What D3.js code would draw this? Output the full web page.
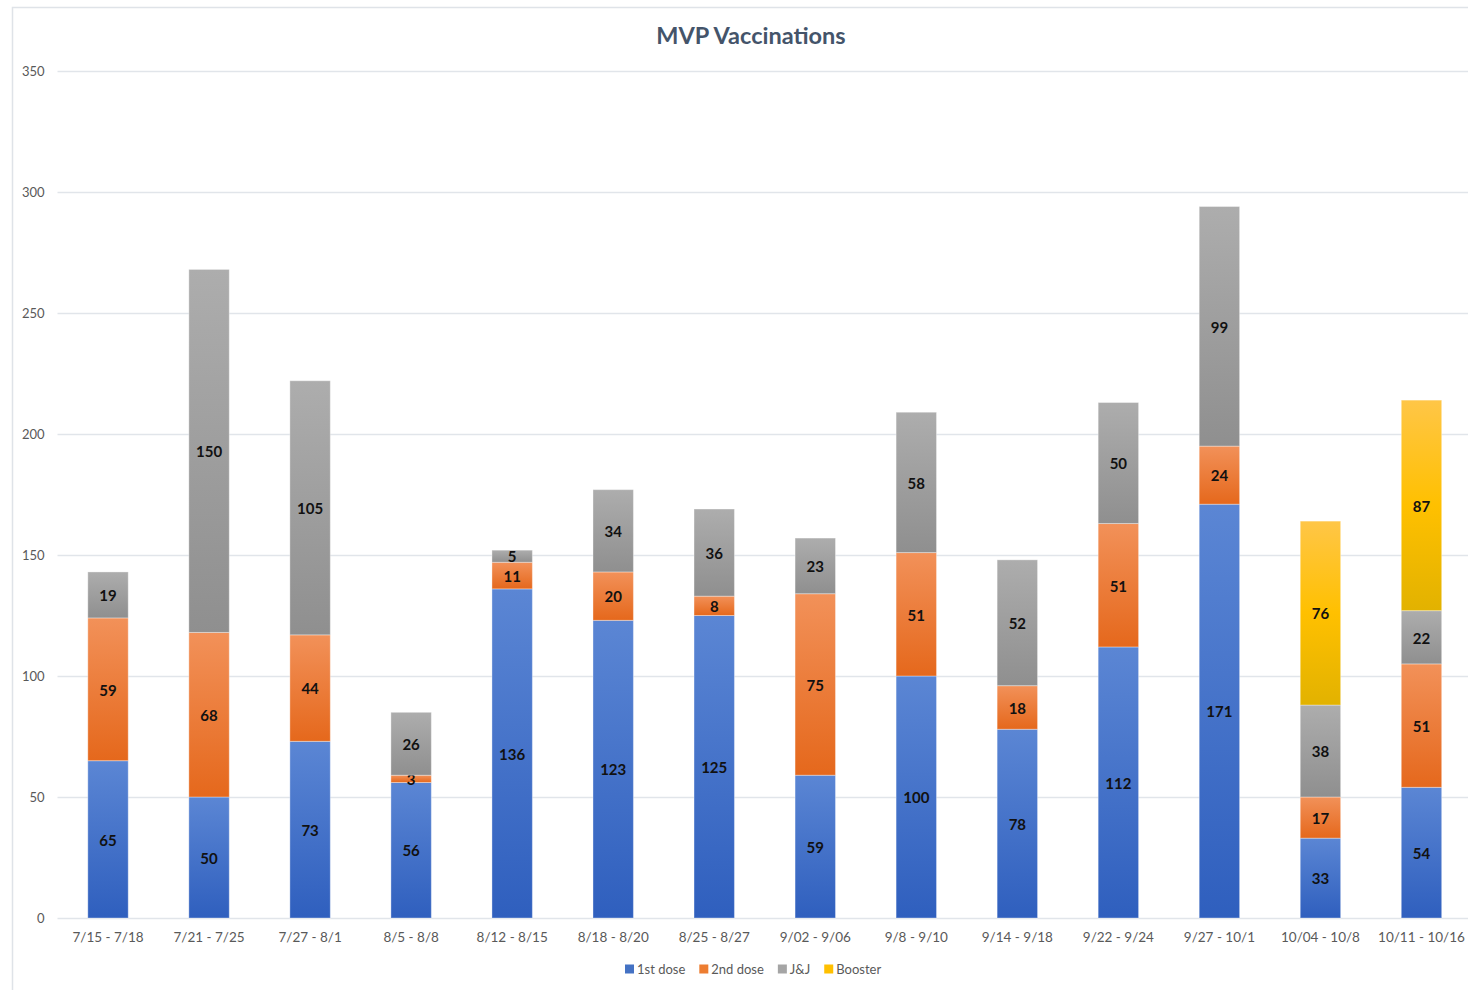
<!DOCTYPE html>
<html>
<head>
<meta charset="utf-8">
<script src="https://cdn.jsdelivr.net/npm/d3@7"></script>
<style>
  body { margin: 0; background: #fff; font-family: Lato, "Open Sans", sans-serif; }
  svg { display: block; }
</style>
</head>
<body>
<div id="chart"></div>
<script>
// data
const weeks = ["7/15 - 7/18", "7/21 - 7/25", "7/27 - 8/1", "8/5 - 8/8", "8/12 - 8/15", "8/18 - 8/20",
  "8/25 - 8/27", "9/02 - 9/06", "9/8 - 9/10", "9/14 - 9/18", "9/22 - 9/24", "9/27 - 10/1",
  "10/04 - 10/8", "10/11 - 10/16"];
const firstDose = [65, 50, 73, 56, 136, 123, 125, 59, 100, 78, 112, 171, 33, 54];
const secondDose = [59, 68, 44, 3, 11, 20, 8, 75, 51, 18, 51, 24, 17, 51];
const jnj = [19, 150, 105, 26, 5, 34, 36, 23, 58, 52, 50, 99, 38, 22];
const booster = [0, 0, 0, 0, 0, 0, 0, 0, 0, 0, 0, 0, 76, 87];
const seriesNames = ["1st dose", "2nd dose", "J&J", "Booster"];
const yTicks = [0, 50, 100, 150, 200, 250, 300, 350];

const rows = weeks.map((w, i) => ({
  week: w, "1st dose": firstDose[i], "2nd dose": secondDose[i], "J&J": jnj[i], "Booster": booster[i]
}));

const colors = {
  "1st dose": { top: "#5b86d4", bottom: "#2f5fbe", key: "#4472c4" },
  "2nd dose": { top: "#f29159", bottom: "#e5681c", key: "#ed7d31" },
  "J&J": { top: "#adadad", bottom: "#8f8f8f", key: "#a5a5a5" },
  "Booster": { top: "#ffc647", bottom: "#e2b200", key: "#ffc000" }
};

const width = 1468, height = 990;
const margin = { top: 71, right: -4, bottom: 72, left: 57.5 };

const svg = d3.select("#chart").append("svg")
  .attr("width", width)
  .attr("height", height);

// outer chart frame
svg.append("rect")
  .attr("x", 12.5).attr("y", 7.5)
  .attr("width", width + 20).attr("height", height + 20)
  .attr("fill", "none")
  .attr("stroke", "#dfe3e8")
  .attr("stroke-width", 1.5);

const defs = svg.append("defs");
seriesNames.forEach((s, k) => {
  const g = defs.append("linearGradient")
    .attr("id", "grad" + k)
    .attr("x1", 0).attr("y1", 0).attr("x2", 0).attr("y2", 1);
  g.append("stop").attr("offset", "0%").attr("stop-color", colors[s].top);
  if (s === "Booster") g.append("stop").attr("offset", "50%").attr("stop-color", "#ffc000");
  g.append("stop").attr("offset", "100%").attr("stop-color", colors[s].bottom);
});

const x = d3.scaleBand()
  .domain(weeks)
  .range([margin.left, width - margin.right])
  .paddingInner(0.6)
  .paddingOuter(0.3);

const y = d3.scaleLinear()
  .domain([0, 350])
  .range([height - margin.bottom, margin.top]);

// title
svg.append("text")
  .attr("x", 751).attr("y", 44)
  .attr("text-anchor", "middle")
  .attr("font-size", 23.5)
  .attr("font-weight", "bold")
  .attr("fill", "#44546a")
  .text("MVP Vaccinations");

// gridlines + y labels
const yAxis = svg.append("g")
  .attr("transform", `translate(${margin.left},0)`)
  .call(d3.axisLeft(y).tickValues(yTicks).tickSize(-(width - margin.left)).tickPadding(13));
yAxis.select(".domain").remove();
yAxis.selectAll(".tick line").attr("stroke", "#e1e5ea").attr("stroke-width", 1.3);
yAxis.selectAll(".tick text")
  .attr("fill", "#595959")
  .attr("font-size", 13)
  .attr("font-family", "Lato, sans-serif");

// x labels
const xAxis = svg.append("g")
  .attr("transform", `translate(0,${y(0)})`)
  .call(d3.axisBottom(x).tickSize(0).tickPadding(14));
xAxis.select(".domain").remove();
xAxis.selectAll(".tick text")
  .attr("fill", "#595959")
  .attr("font-size", 13.5)
  .attr("font-family", "Lato, sans-serif");

const stack = d3.stack().keys(seriesNames);
const layers = stack(rows);

const layerG = svg.append("g")
  .selectAll("g")
  .data(layers)
  .join("g")
  .attr("fill", (d, k) => `url(#grad${k})`);

layerG.selectAll("rect")
  .data(d => d.filter(p => p[1] - p[0] > 0))
  .join("rect")
  .attr("x", d => x(d.data.week))
  .attr("y", d => y(d[1]))
  .attr("width", x.bandwidth())
  .attr("height", d => y(d[0]) - y(d[1]))
  .attr("stroke", "#ffffff")
  .attr("stroke-opacity", 0.35)
  .attr("stroke-width", 1);

// value labels
layerG.selectAll("text")
  .data(d => d.filter(p => p[1] - p[0] > 0))
  .join("text")
  .attr("x", d => x(d.data.week) + x.bandwidth() / 2)
  .attr("y", d => (y(d[0]) + y(d[1])) / 2 + 1)
  .attr("dy", "0.35em")
  .attr("text-anchor", "middle")
  .attr("fill", "#111")
  .attr("font-size", 15)
  .attr("font-weight", "bold")
  .text(d => d[1] - d[0]);

// legend
const legendItems = seriesNames.map(s => ({ name: s }));
const legend = svg.append("g").attr("transform", "translate(0,969)");
let lx = 625;
legendItems.forEach(it => {
  const g = legend.append("g").attr("transform", `translate(${lx},0)`);
  g.append("rect").attr("x", 0).attr("y", -4.5).attr("width", 9).attr("height", 9)
    .attr("fill", colors[it.name].key);
  const t = g.append("text").attr("x", 12).attr("dy", "0.35em")
    .attr("font-size", 13).attr("fill", "#595959").text(it.name);
  lx += 12 + t.node().getComputedTextLength() + 14;
});
</script>
</body>
</html>
